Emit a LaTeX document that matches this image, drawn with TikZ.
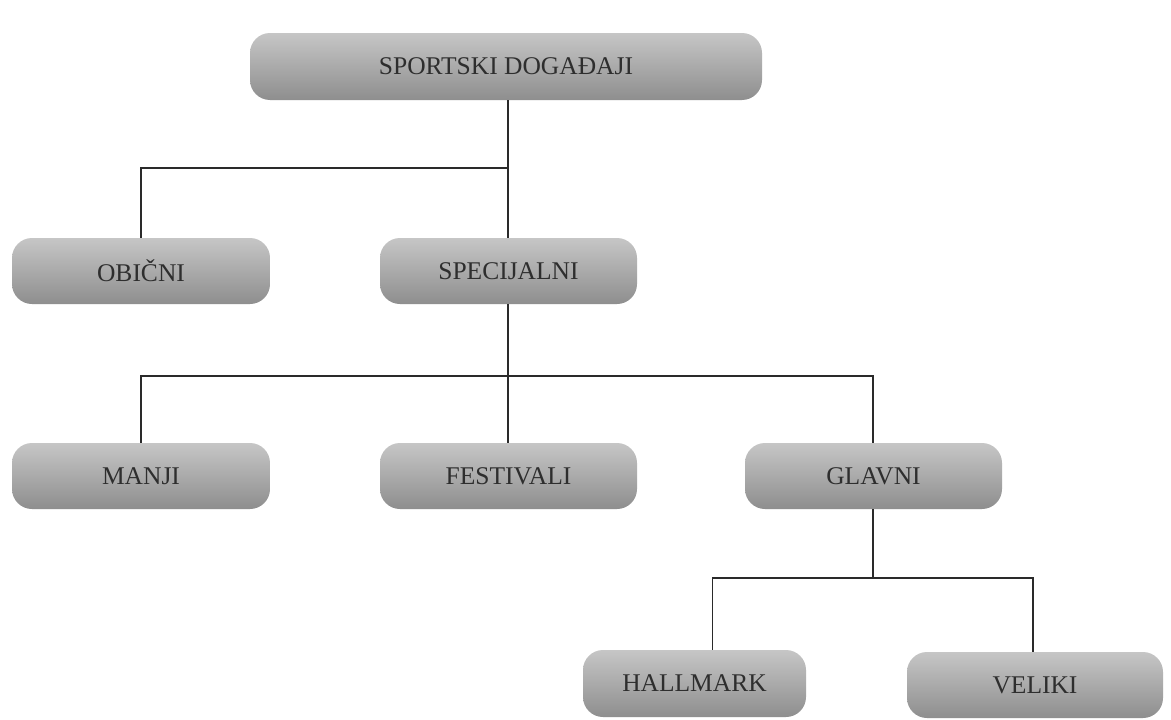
\documentclass[tikz,border=0pt]{standalone}
\usepackage{fontspec}
\setmainfont{Liberation Serif}
\definecolor{boxtop}{HTML}{C6C6C6}
\definecolor{boxbot}{HTML}{8E8E8E}
\definecolor{txt}{HTML}{2E2E2E}
\definecolor{ln}{HTML}{2A2A2A}
\begin{document}
\begin{tikzpicture}[x=1pt,y=-1pt,
  evbox/.style={rounded corners=20pt, top color=boxtop, bottom color=boxbot, draw=none,
    text=txt, font=\fontsize{25.5}{29}\selectfont, anchor=center, inner sep=0pt},
  conn/.style={draw=ln, line width=1.3pt}]
\useasboundingbox[fill=white] (0,0) rectangle (1171,720);
\node[evbox, minimum width=512pt, minimum height=67pt] (top) at (506,66.5) {SPORTSKI DOGAĐAJI};
\node[evbox, minimum width=258pt, minimum height=66pt] (obicni) at (141,271) {OBIČNI};
\node[evbox, minimum width=257pt, minimum height=66pt] (spec) at (508.5,271) {SPECIJALNI};
\node[evbox, minimum width=258pt, minimum height=66pt] (manji) at (141,476) {MANJI};
\node[evbox, minimum width=257pt, minimum height=66pt] (fest) at (508.5,476) {FESTIVALI};
\node[evbox, minimum width=257pt, minimum height=66pt] (glavni) at (873.5,476) {GLAVNI};
\node[evbox, minimum width=223pt, minimum height=67pt] (hall) at (694.5,683.5) {HALLMARK};
\node[evbox, minimum width=256pt, minimum height=66pt] (veliki) at (1035,685) {VELIKI};
\coordinate (j1) at (508,168);
\coordinate (j2) at (508,376);
\coordinate (j3) at (873,578);
\draw[conn] (top.south -| j1) -- (spec.north -| j1);
\draw[conn] (j1) -| (obicni.north);
\draw[conn] (spec.south -| j2) -- (fest.north -| j2);
\draw[conn] (j2) -| (manji.north);
\draw[conn] (j2) -| (glavni.north -| j3);
\draw[conn] (glavni.south -| j3) -- (j3);
\draw[conn] (j3) -| ([xshift=18pt]hall.north);
\draw[conn] (j3) -| ([xshift=-2pt]veliki.north);
\end{tikzpicture}
\end{document}
